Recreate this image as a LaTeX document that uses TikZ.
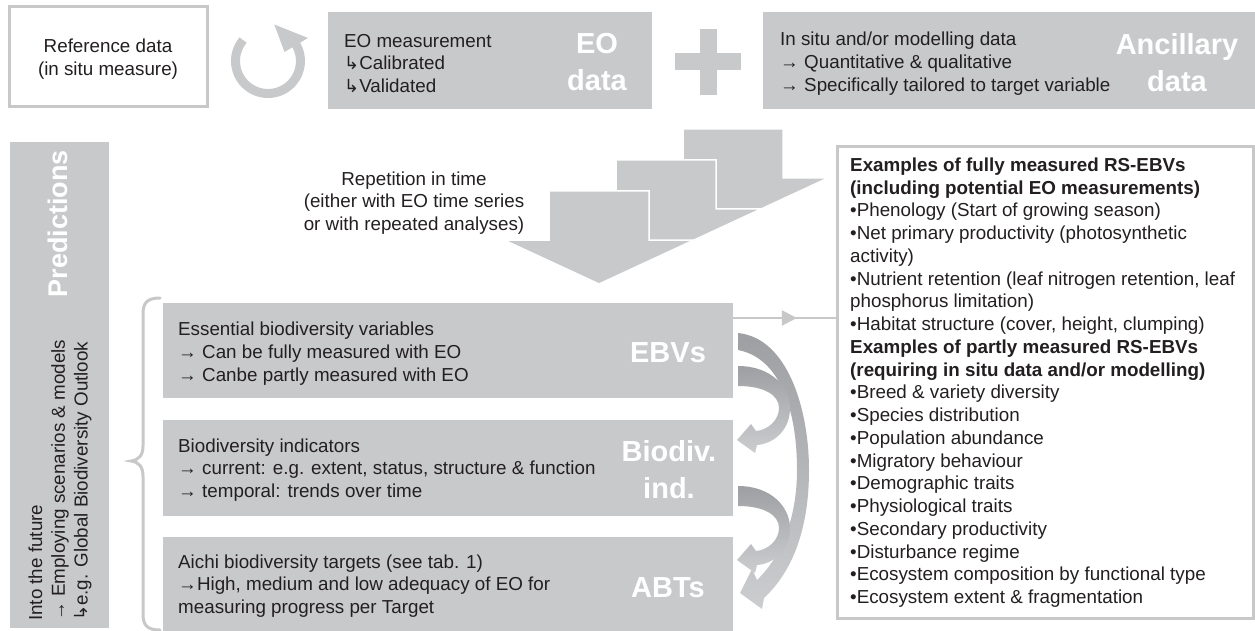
\documentclass[tikz,border=0pt]{standalone}
\usepackage{fontspec}
\setmainfont{Liberation Sans}
\newfontfamily\symfont{DejaVu Sans}
\usetikzlibrary{arrows.meta,decorations.markings}
\definecolor{boxgray}{RGB}{200,201,203}
\definecolor{linegray}{RGB}{200,200,200}
\definecolor{ribdark}{RGB}{158,159,162}
\definecolor{riblight}{RGB}{204,205,207}
\definecolor{txtcol}{RGB}{35,31,32}
\newcommand{\hk}{{\symfont\fontsize{18}{18}\selectfont ↳}}
\begin{document}
\begin{tikzpicture}[x=1pt,y=-1pt,
  gbox/.style={draw=none, fill=boxgray, inner sep=0pt, outer sep=0pt, anchor=north west},
  wbox/.style={draw=linegray, line width=3pt, fill=white, inner sep=0pt, outer sep=0pt, anchor=north west},
  txt/.style={inner sep=0pt, align=left, anchor=west, text=txtcol, font=\fontsize{18.8}{22.7}\selectfont},
  ctxt/.style={inner sep=0pt, align=center, text=txtcol, font=\fontsize{18.8}{22.7}\selectfont},
  rline/.style={inner sep=0pt, anchor=base west, text=txtcol, font=\fontsize{18.8}{22.7}\selectfont},
  lbl/.style={inner sep=0pt, align=center, text=white, font=\bfseries\fontsize{29}{37}\selectfont},
  stair/.style={fill=boxgray, draw=white, line width=1.5pt, line join=miter},
  conn/.style={draw=linegray, line width=2pt},
  rib/.style={top color=ribdark, bottom color=riblight, draw=none},
  brace/.style={draw=linegray, line width=3pt, line cap=round}]
\useasboundingbox (0,0) rectangle (1255,631);

% ---------- top row ----------
\node[wbox, minimum width=198pt, minimum height=100pt] (ref) at (9,7) {};
\node[ctxt] (reft) at (108,59) {Reference data\\(in situ measure)};

% circular arrow
\draw[draw=boxgray, line width=9pt] (268,61) ++(-140:32.5) arc[start angle=-140, end angle=-390, radius=32.5];
\fill[boxgray] (284.5,52) -- (308,38) -- (274.3,24.5) -- cycle;

\node[gbox, minimum width=324pt, minimum height=97pt] (eo) at (328,12) {};
\node[txt] (eot) at ([xshift=16pt,yshift=-3pt]eo.west) {EO measurement\\\hk Calibrated\\\hk Validated};
\node[lbl] (eol) at (597,62) {EO\\data};

% plus
\fill[boxgray] (675,53.5) rectangle (741,70.5);
\fill[boxgray] (699.5,29) rectangle (716.5,95);

\node[gbox, minimum width=492pt, minimum height=97pt] (anc) at (763,12) {};
\node[txt] (anct) at ([xshift=17pt,yshift=-3pt]anc.west) {In situ and/or modelling data\\→ Quantitative \& qualitative\\→ Specifically tailored to target variable};
\node[lbl] (ancl) at (1177,63) {Ancillary\\data};

% ---------- predictions bar ----------
\node[gbox, minimum width=99pt, minimum height=486pt] (predbar) at (10,142) {};
\node[lbl, rotate=90, anchor=east, font=\bfseries\fontsize{27}{30}\selectfont] (pred) at (58,150) {Predictions};
\node[txt, rotate=90, anchor=west] (fut) at (60,621) {Into the future\\→ Employing scenarios \& models\\\hk e.g. Global Biodiversity Outlook};

% brace
\draw[brace] (160,298) .. controls (147,298) and (143,303) .. (143,314) -- (143,446)
  .. controls (143,455) and (139,460) .. (131,461)
  .. controls (139,462) and (143,467) .. (143,476) -- (143,614)
  .. controls (143,625) and (147,630) .. (160,630);

% ---------- staircase arrow ----------
\foreach \i in {2,1,0}{
  \filldraw[stair, shift={({67*\i},{-31*\i})}] (549,191) -- (649,191) -- (649,240) -- (694,240)
     -- (599,284) -- (504,240) -- (549,240) -- cycle;
}
\node[ctxt] (rep) at (414,203) {Repetition in time\\(either with EO time series\\or with repeated analyses)};

% ---------- lower boxes ----------
\node[gbox, minimum width=570pt, minimum height=95pt] (ebv) at (163,303) {};
\node[txt] (ebvt) at ([xshift=15pt,yshift=-3pt]ebv.west) {Essential biodiversity variables\\→ Can be fully measured with EO\\→ Canbe partly measured with EO};
\node[lbl] (ebvl) at (668,353) {EBVs};

\node[gbox, minimum width=570pt, minimum height=96pt] (bio) at (163,420) {};
\node[txt] (biot) at ([xshift=15pt,yshift=-2pt]bio.west) {Biodiversity indicators\\→ current: e.g. extent, status, structure \& function\\→ temporal: trends over time};
\node[lbl] (biol) at (669,470) {Biodiv.\\ind.};

\node[gbox, minimum width=570pt, minimum height=94pt] (abt) at (163,537) {};
\node[txt] (abtt) at ([xshift=15pt,yshift=-2pt]abt.west) {Aichi biodiversity targets (see tab. 1)\\→High, medium and low adequacy of EO for\\measuring progress per Target};
\node[lbl] (abtl) at (668,588) {ABTs};

% ---------- curved arrows ----------
\path[rib] (738,333) .. controls (788,338) and (809,410) .. (809,470)
  .. controls (809,530) and (792,572) .. (764,598)
  -- (762,609) -- (740,593) -- (752,569) -- (757,580)
  .. controls (783,555) and (797,515) .. (797,470)
  .. controls (797,410) and (780,358) .. (738,350) -- cycle;
\foreach \s in {0,120}{
\path[rib, shift={(0,\s)}] (738,366) .. controls (772,366) and (791,388) .. (790,410)
  .. controls (789,432) and (772,444) .. (757,445)
  -- (755,453) -- (737,440) -- (751,424) -- (756,431)
  .. controls (768,430) and (779,420) .. (779,408)
  .. controls (779,395) and (764,386) .. (738,386) -- cycle;
}

% ---------- right box ----------
\node[wbox, minimum width=416pt, minimum height=471pt] (rbox) at (837,147) {};
\foreach \t [count=\i from 0] in {
 {\textbf{Examples of fully measured RS-EBVs}},
 {\textbf{(including potential EO measurements)}},
 {•Phenology (Start of growing season)},
 {•Net primary productivity (photosynthetic},
 {activity)},
 {•Nutrient retention (leaf nitrogen retention, leaf},
 {phosphorus limitation)},
 {•Habitat structure (cover, height, clumping)},
 {\textbf{Examples of partly measured RS-EBVs}},
 {\textbf{(requiring in situ data and/or modelling)}},
 {•Breed \& variety diversity},
 {•Species distribution},
 {•Population abundance},
 {•Migratory behaviour},
 {•Demographic traits},
 {•Physiological traits},
 {•Secondary productivity},
 {•Disturbance regime},
 {•Ecosystem composition by functional type},
 {•Ecosystem extent \& fragmentation}}{
  \node[rline] (r\i) at (850,{171.5+22.74*\i}) {\t};
}

% connector EBV -> examples
\coordinate (cs) at ([yshift=-15pt]ebv.north east);
\draw[conn, postaction={decorate}, decoration={markings, mark=at position 0.615 with {\arrow[linegray]{Triangle[width=15pt,length=15pt]}}}] (cs) -- (cs -| rbox.west);
\end{tikzpicture}
\end{document}
